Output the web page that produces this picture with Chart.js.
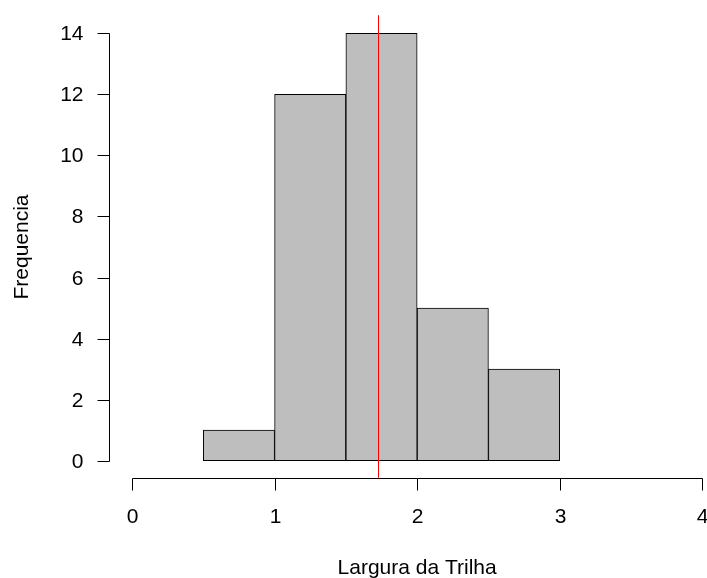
<!DOCTYPE html>
<html><head><meta charset="utf-8">
<script src="https://cdn.jsdelivr.net/npm/chart.js@4/dist/chart.umd.min.js"></script>
<style>html,body{margin:0;padding:0;background:#fff}#wrap{width:707px;height:578px;position:relative}</style>
</head><body><div id="wrap"><canvas id="c" width="707" height="578"></canvas></div>
<script>
// ---- data ----
const binCenters = [0.75, 1.25, 1.75, 2.25, 2.75];
const frequencies = [1, 12, 14, 5, 3];
const meanValue = [1.725];
const xTicks = [0, 1, 2, 3, 4];
const yTicks = [0, 2, 4, 6, 8, 10, 12, 14];
const xTitle = 'Largura da Trilha';
const yTitle = 'Frequencia';

const FONT = '21px "Liberation Sans", Arial, sans-serif';

const rAxes = {
  id: 'rAxes',
  afterDatasetsDraw(chart) {
    const ctx = chart.ctx, xs = chart.scales.x, ys = chart.scales.y, ca = chart.chartArea;
    // red mean line
    ctx.save();
    ctx.strokeStyle = '#FF0000';
    ctx.lineWidth = 1;
    meanValue.forEach(v => {
      const px = Math.round(xs.getPixelForValue(v)) + 0.5;
      ctx.beginPath(); ctx.moveTo(px, ca.top - 1); ctx.lineTo(px, ca.bottom); ctx.stroke();
    });
    ctx.restore();
  },
  afterDraw(chart) {
    const ctx = chart.ctx, xs = chart.scales.x, ys = chart.scales.y, ca = chart.chartArea;
    ctx.save();
    ctx.strokeStyle = '#000'; ctx.fillStyle = '#000'; ctx.lineWidth = 1;
    ctx.font = FONT;
    // y axis
    const ax = Math.round(ca.left) + 0.5;
    const y0 = Math.round(ys.getPixelForValue(yTicks[0])) + 0.5;
    const y1 = Math.round(ys.getPixelForValue(yTicks[yTicks.length - 1])) + 0.5;
    ctx.beginPath(); ctx.moveTo(ax, y0); ctx.lineTo(ax, y1); ctx.stroke();
    ctx.textAlign = 'right'; ctx.textBaseline = 'middle';
    yTicks.forEach(t => {
      const py = Math.round(ys.getPixelForValue(t)) + 0.5;
      ctx.beginPath(); ctx.moveTo(ax - 12, py); ctx.lineTo(ax, py); ctx.stroke();
      ctx.fillText(String(t), ax - 26, py + 1);
    });
    // x axis
    const ay = Math.round(ca.bottom) + 0.5;
    const x0 = Math.round(xs.getPixelForValue(xTicks[0])) + 0.5;
    const x1 = Math.round(xs.getPixelForValue(xTicks[xTicks.length - 1])) + 0.5;
    ctx.beginPath(); ctx.moveTo(x0, ay); ctx.lineTo(x1, ay); ctx.stroke();
    ctx.textAlign = 'center'; ctx.textBaseline = 'middle';
    xTicks.forEach(t => {
      const px = Math.round(xs.getPixelForValue(t)) + 0.5;
      ctx.beginPath(); ctx.moveTo(px, ay); ctx.lineTo(px, ay + 12); ctx.stroke();
      ctx.fillText(String(t), px, ay + 39);
    });
    // titles
    const midX = xs.getPixelForValue((xTicks[0] + xTicks[xTicks.length - 1]) / 2);
    ctx.fillText(xTitle, midX, ay + 90);
    ctx.translate(22, (ca.top + ca.bottom) / 2);
    ctx.rotate(-Math.PI / 2);
    ctx.fillText(yTitle, 0, 0);
    ctx.restore();
  }
};

new Chart(document.getElementById('c'), {
  type: 'bar',
  data: {
    datasets: [{
      data: binCenters.map((c, i) => ({ x: c, y: frequencies[i] })),
      backgroundColor: '#BEBEBE',
      borderColor: '#000000',
      borderWidth: 1,
      borderSkipped: false,
      barPercentage: 1,
      categoryPercentage: 1
    }]
  },
  options: {
    responsive: false,
    animation: false,
    devicePixelRatio: 1,
    layout: { padding: { left: 109.2, top: 16.2, right: 0, bottom: 100.2 } },
    plugins: { legend: { display: false }, tooltip: { enabled: false } },
    scales: {
      x: {
        type: 'linear', display: false, min: -0.16, max: 4.033, offset: false,
        afterBuildTicks: s => { s.ticks = xTicks.map(v => ({ value: v })); }
      },
      y: { type: 'linear', display: false, min: -0.56, max: 14.56 }
    }
  },
  plugins: [rAxes]
});
</script>
</body></html>
